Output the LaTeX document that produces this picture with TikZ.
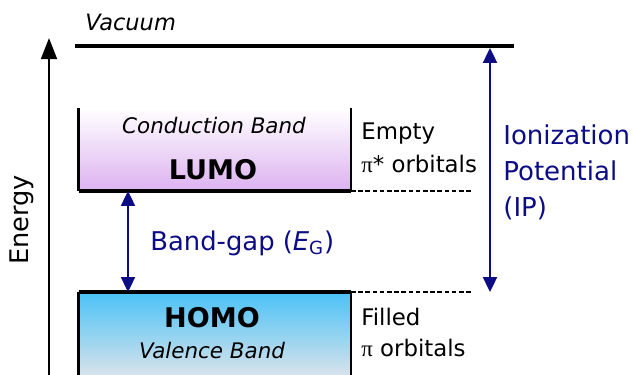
\documentclass[tikz,border=0pt]{standalone}
\usepackage{fontspec}
\setmainfont{DejaVu Sans}
\newfontfamily\pifont{Liberation Serif}
\usepackage{tikz}
\usetikzlibrary{arrows.meta, positioning}

\definecolor{ipblue}{RGB}{12,12,132}
\definecolor{lumopurple}{RGB}{220,178,240}
\definecolor{homoblue}{RGB}{74,194,246}
\definecolor{homogrey}{RGB}{222,228,234}

\tikzset{
  level/.style={line width=2.1pt},
  bandside/.style={line width=1.3pt},
  dashlevel/.style={line width=1pt, dash pattern=on 2.6pt off 1.5pt},
  gaparrow/.style={ipblue, line width=1.1pt,
    {Triangle[width=8pt,length=8.5pt]}-{Triangle[width=8pt,length=8.5pt]}},
  label/.style={anchor=west, inner sep=0pt, align=left},
}

\begin{document}
\begin{tikzpicture}
\useasboundingbox (0,0) rectangle (12.68,7.48);

% energy axis
\coordinate (ebot) at (0.98,-0.1);
\coordinate (etop) at (0.98,6.72);
\draw[line width=1.3pt, -{Triangle[width=9pt,length=12pt]}] (ebot) -- (etop);
\node[rotate=90, inner sep=0pt, font=\fontsize{14.6}{18}\selectfont] (energy) at (0.44,3.08) {Energy};

% vacuum level
\coordinate (vacl) at (1.5,6.56);
\coordinate (vacr) at (10.28,6.56);
\draw[level] (vacl) -- (vacr);
\node[label, font=\fontsize{12.8}{16}\selectfont\itshape] (vacuum) at (1.7,7.04) {Vacuum};

% LUMO band
\coordinate (lumobl) at (1.57,3.66);
\coordinate (lumobr) at (7.02,3.66);
\coordinate (lumotl) at (1.57,5.32);
\coordinate (lumotr) at (7.02,5.32);
\shade[top color=white, bottom color=lumopurple] (lumobl) rectangle (lumotr);
\draw[bandside] (lumotl) -- (lumobl);
\draw[bandside] (lumotr) -- (lumobr);
\draw[level] (lumobl) -- (lumobr);
\node[font=\fontsize{12.2}{15}\selectfont\itshape] (cband) at (4.28,4.96) {Conduction Band};
\node[font=\fontsize{15.4}{18}\selectfont\bfseries] (lumo) at (4.26,4.08) {LUMO};

% HOMO band
\coordinate (homobl) at (1.57,-0.1);
\coordinate (homobr) at (7.02,-0.1);
\coordinate (homotl) at (1.57,1.64);
\coordinate (homotr) at (7.02,1.64);
\shade[top color=homoblue, bottom color=homogrey] (homobl) rectangle (homotr);
\draw[bandside] (homotl) -- (homobl);
\draw[bandside] (homotr) -- (homobr);
\draw[level] (homotl) -- (homotr);
\node[font=\fontsize{15.4}{18}\selectfont\bfseries] (homo) at (4.24,1.12) {HOMO};
\node[font=\fontsize{12.2}{15}\selectfont\itshape] (vband) at (4.24,0.46) {Valence Band};

% orbital levels carried over to the IP arrow
\coordinate (lumodash) at (9.46,3.66);
\coordinate (homodash) at (9.46,1.64);
\draw[dashlevel] (lumobr) -- (lumodash);
\draw[dashlevel] (homotr) -- (homodash);

\node[label, font=\fontsize{13}{18.8}\selectfont] (empty) at (7.22,4.53)
  {Empty\\{\pifont π}* orbitals};
\node[label, font=\fontsize{13}{17.6}\selectfont] (filled) at (7.22,0.83)
  {Filled\\{\pifont π} orbitals};

% band gap
\coordinate (gaptop) at (2.56,3.66);
\coordinate (gapbot) at (2.56,1.64);
\draw[gaparrow] (gaptop) -- (gapbot);
\node[label, ipblue, font=\fontsize{14.7}{18}\selectfont] (gap) at (3.0,2.62)
  {Band-gap ({\itshape E}\textsubscript{G})};

% ionization potential
\coordinate (iptop) at (9.8,6.52);
\coordinate (ipbot) at (9.8,1.64);
\draw[gaparrow] (iptop) -- (ipbot);
\node[label, ipblue, font=\fontsize{14.8}{20.5}\selectfont] (ip) at (10.06,4.04)
  {Ionization\\Potential\\(IP)};
\end{tikzpicture}
\end{document}
